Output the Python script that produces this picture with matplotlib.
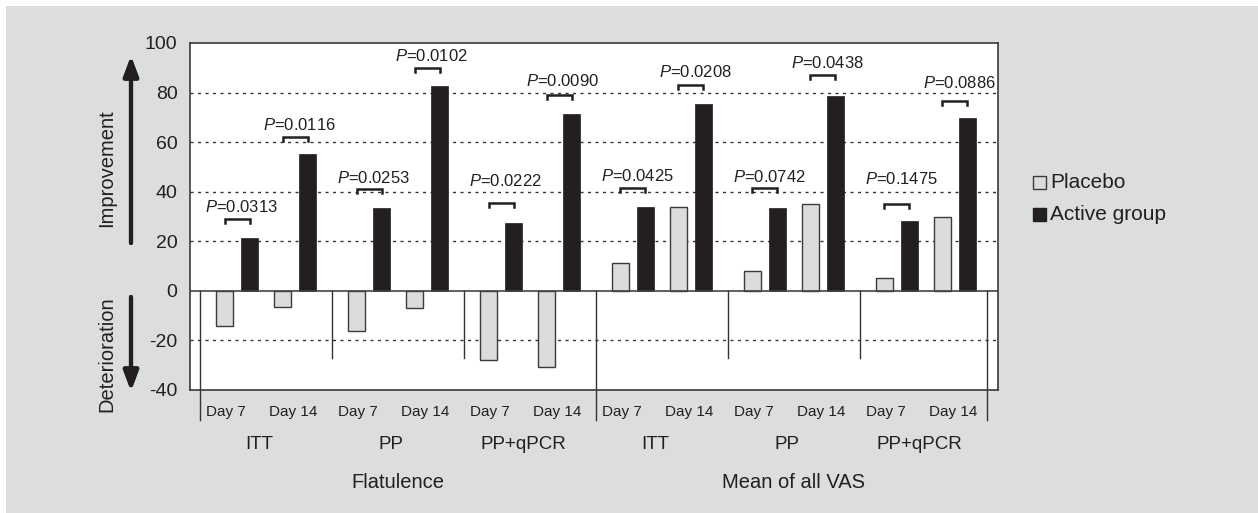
import numpy as np
import matplotlib.pyplot as plt
from matplotlib.patches import Rectangle

plt.rcParams['font.family'] = ['Liberation Sans', 'DejaVu Sans']
plt.rcParams['mathtext.fontset'] = 'custom'
plt.rcParams['mathtext.it'] = 'Liberation Sans:italic'
plt.rcParams['mathtext.rm'] = 'Liberation Sans'
plt.rcParams['axes.unicode_minus'] = False

W, H = 1258, 513

days = ['Day 7', 'Day 14']
groups = ['ITT', 'PP', 'PP+qPCR', 'ITT', 'PP', 'PP+qPCR']
outcomes = ['Flatulence', 'Mean of all VAS']
placebo = [-14.3, -6.5, -16.2, -6.9, -27.8, -30.7, 11.2, 33.8, 8.1, 35.2, 5.3, 29.6]
active = [21.3, 55.4, 33.4, 82.7, 27.5, 71.2, 33.7, 75.5, 33.3, 78.7, 28.0, 69.6]
p_values = ['0.0313', '0.0116', '0.0253', '0.0102', '0.0222', '0.0090',
            '0.0425', '0.0208', '0.0742', '0.0438', '0.1475', '0.0886']
bracket_y = [29.1, 61.9, 40.9, 90.1, 35.3, 79.1, 41.5, 83.1, 41.3, 87.2, 34.9, 76.4]
label_y = [30.7, 63.6, 42.5, 91.6, 41.2, 81.5, 43.2, 84.9, 42.9, 88.9, 41.9, 80.8]

dark = '#231f20'
light = '#dcdcdc'

fig = plt.figure(figsize=(W / 100, H / 100), dpi=100)
fig.patches.append(Rectangle((6 / W, 0), 1, 1 - 6 / H, transform=fig.transFigure,
                             facecolor='#dcdddf', edgecolor='none', zorder=-10))

ax = fig.add_axes([190 / W, (H - 390) / H, 808 / W, 347 / H])
ax.set_facecolor('white')

# x in "group" units, each group 132 px wide
px = 1 / 132
n = len(placebo)
g_idx = np.arange(n) // 2
d_idx = np.arange(n) % 2
x_plac = g_idx + (24.5 + 58 * d_idx) * px
x_act = x_plac + 25 * px
bw = 17 * px

ax.bar(x_plac, placebo, bw, color=light, edgecolor='#3a3a3a', linewidth=1, zorder=3)
ax.bar(x_act, active, bw, color=dark, edgecolor=dark, linewidth=0.5, zorder=3)

ax.set_xlim(-10 * px, 798 * px)
ax.set_ylim(-40, 100)
ax.set_yticks([-40, -20, 0, 20, 40, 60, 80, 100])
ax.tick_params(axis='y', length=0, pad=9, labelsize=14, colors=dark)
ax.set_xticks([])

for yv in [80, 60, 40, 20, -20]:
    ax.axhline(yv, color='#333333', lw=1, ls=(0, (2.2, 3.2)), zorder=1)
ax.axhline(0, color='#444444', lw=1.2, zorder=4)

for s in ax.spines.values():
    s.set_color('#3a3a3a')
    s.set_linewidth(1.2)

# group separators
for k in range(7):
    if k in (0, 3, 6):
        ax.plot([k - (5 * px if k == 6 else 0)] * 2, [0, -52.1], color='#333333', lw=1,
                clip_on=False, zorder=4)
    else:
        ax.plot([k, k], [0, -27.1], color='#333333', lw=1, zorder=4)

# p-value brackets
for i in range(n):
    x0, x1 = x_plac[i], x_act[i]
    yb = bracket_y[i]
    ax.plot([x0, x0, x1, x1], [yb - 1.6, yb, yb, yb - 1.6], color=dark, lw=1.8, zorder=5,
            solid_joinstyle='miter')
    ax.text((x0 + x1) / 2 + 4 * px, label_y[i], r'$\mathit{P}$=' + p_values[i],
            ha='center', va='bottom', fontsize=12, color=dark, zorder=6)

# category labels
for g in range(6):
    ax.text(g + 26 * px, -49, days[0], ha='center', va='center', fontsize=11, color=dark,
            clip_on=False)
    ax.text(g + 93 * px, -49, days[1], ha='center', va='center', fontsize=11, color=dark,
            clip_on=False)
    ax.text(g + 59 * px, -62, groups[g], ha='center', va='center', fontsize=13.5, color=dark,
            clip_on=False)
for o in range(2):
    ax.text(3 * o + 1.5, -77.3, outcomes[o], ha='center', va='center', fontsize=14.5,
            color=dark, clip_on=False)

# side arrows and labels
def fx(x):
    return x / W

def fy(y):
    return 1 - y / H

arrow = dict(arrowstyle='-|>,head_length=0.8,head_width=0.3', lw=3, color=dark,
             mutation_scale=15, shrinkA=0, shrinkB=0)
fig.add_artist(plt.annotate('', xy=(fx(131), fy(56)), xytext=(fx(131), fy(243)),
                            xycoords='figure fraction', textcoords='figure fraction',
                            arrowprops=arrow))
fig.add_artist(plt.annotate('', xy=(fx(131), fy(391)), xytext=(fx(131), fy(297)),
                            xycoords='figure fraction', textcoords='figure fraction',
                            arrowprops=arrow))
fig.text(fx(107), fy(168), 'Improvement', rotation=90, ha='center', va='center',
         fontsize=14.5, color=dark)
fig.text(fx(107), fy(354), 'Deterioration', rotation=90, ha='center', va='center',
         fontsize=14.5, color=dark)

# legend
fig.patches.append(Rectangle((fx(1033), fy(189)), 13 / W, 13 / H, transform=fig.transFigure,
                             facecolor=light, edgecolor='#3a3a3a', lw=1))
fig.patches.append(Rectangle((fx(1033), fy(221)), 13 / W, 13 / H, transform=fig.transFigure,
                             facecolor=dark, edgecolor=dark, lw=1))
fig.text(fx(1050), fy(182), 'Placebo', ha='left', va='center', fontsize=15, color=dark)
fig.text(fx(1050), fy(214), 'Active group', ha='left', va='center', fontsize=15, color=dark)

plt.savefig('out.png', dpi=100, facecolor='white')
